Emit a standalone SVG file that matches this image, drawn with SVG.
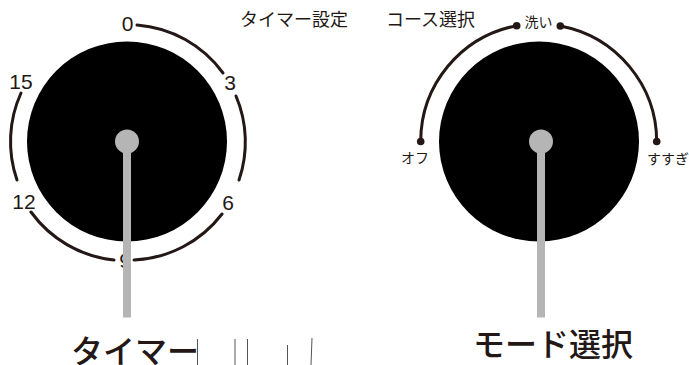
<svg xmlns="http://www.w3.org/2000/svg" width="689" height="365" viewBox="0 0 689 365">
<style>
text{font-family:"Liberation Sans","Noto Sans CJK JP",sans-serif;fill:#231815}
.jp{font-family:"Noto Sans CJK JP",sans-serif}
.num{font-size:21px;text-anchor:middle}
.sm{font-size:14px;text-anchor:middle}
.mid{font-size:18px}
.big{font-size:32px;font-weight:500}
.arc{fill:none;stroke:#231815;stroke-width:3;stroke-linecap:round}
.disc{fill:#000}
.grey{fill:#b5b5b5}
.dot{fill:#231815}
.tick{stroke:#555;stroke-width:1;fill:none}
</style>
<g id="timer-dial">
<g id="timer-scale">
<path class="arc" d="M137 25A117.5 117.5 0 0 1 223 73"/>
<path class="arc" d="M236 96A117.5 117.5 0 0 1 239 180"/>
<path class="arc" d="M222 214A117.5 117.5 0 0 1 134 260"/>
<path class="arc" d="M114 260A117.5 117.5 0 0 1 31 212"/>
<path class="arc" d="M17 180A117.5 117.5 0 0 1 21 93"/>
</g>
<text class="num" x="127.500" y="31">0</text>
<text class="num" x="230" y="90">3</text>
<text class="num" x="228" y="210">6</text>
<text class="num" x="24" y="209">12</text>
<text class="num" x="21" y="89">15</text>
<text class="num" x="125" y="268">9</text>
<circle class="disc" cx="127" cy="141.500" r="100"/>
<rect class="grey" x="123" y="141" width="8" height="176.500"/>
<circle class="grey" cx="127" cy="141.500" r="12"/>
</g>
<g id="mode-dial">
<path class="arc" d="M420.700 141.500A118 118 0 0 1 516.700 25.700"/>
<path class="arc" d="M560.300 26A118 118 0 0 1 656.700 141.500"/>
<circle class="dot" cx="420.700" cy="141.500" r="3.800"/>
<circle class="dot" cx="516.700" cy="25.700" r="3.800"/>
<circle class="dot" cx="560.300" cy="26" r="3.800"/>
<circle class="dot" cx="656.700" cy="141.500" r="3.800"/>
<text class="sm jp" x="415" y="163">オフ</text>
<text class="sm jp" x="538.500" y="26.500">洗い</text>
<text class="sm jp" x="668" y="164">すすぎ</text>
<circle class="disc" cx="539" cy="141.500" r="100"/>
<rect class="grey" x="537" y="141" width="8" height="176.500"/>
<circle class="grey" cx="541" cy="141.500" r="12"/>
</g>
<g id="titles">
<text class="mid jp" x="240" y="26">タイマー設定</text>
<text class="mid jp" x="386" y="26">コース選択</text>
<text class="big jp" x="71" y="363">タイマー</text>
<text class="big jp" x="473" y="356">モード選択</text>
</g>
<g id="ticks">
<path class="tick" d="M197.500 339V365M235 339V365M247.500 339V365M287.500 345V365M312 338L311 365"/>
</g>
</svg>
